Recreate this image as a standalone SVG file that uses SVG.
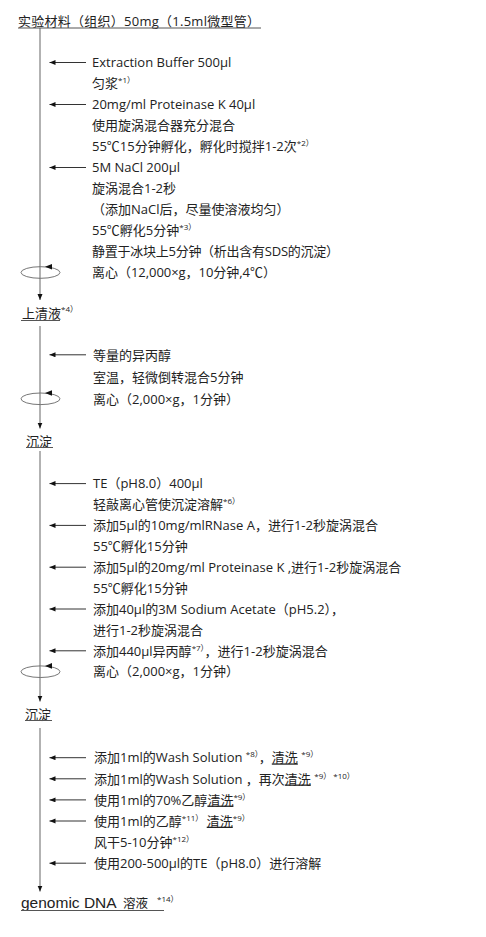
<svg xmlns="http://www.w3.org/2000/svg" width="486" height="937" viewBox="0 0 486 937">
<defs>
<style>
.t{font-family:"Open Sans","Noto Sans CJK SC",sans-serif;font-size:13px;fill:#222}
.sup{font-size:8px}
.u{text-decoration:underline}
.ul{stroke:#555;stroke-width:1}
.v{stroke:#999;stroke-width:1.5;fill:none}
.a{stroke:#333;stroke-width:1;fill:none}
.cf{stroke:#666;stroke-width:0.9;fill:none}
.hd{fill:#111}
</style>
<marker id="ah" markerUnits="userSpaceOnUse" markerWidth="7" markerHeight="6" refX="6" refY="2.5" orient="auto">
<path d="M0,0 L6,2.5 L0,5 z" fill="#111"/>
</marker>
</defs>
<rect width="486" height="937" fill="#fff"/>

<g id="connectors">
<line class="v" x1="40" y1="28" x2="40" y2="300" marker-end="url(#ah)"/>
<line class="v" x1="40" y1="326" x2="40" y2="428.5" marker-end="url(#ah)"/>
<line class="v" x1="40" y1="451" x2="40" y2="701.5" marker-end="url(#ah)"/>
<line class="v" x1="40" y1="728" x2="40" y2="891.5" marker-end="url(#ah)"/>
<line class="a" x1="86" y1="62.5" x2="49.5" y2="62.5" marker-end="url(#ah)"/>
<line class="a" x1="86" y1="104.5" x2="49.5" y2="104.5" marker-end="url(#ah)"/>
<line class="a" x1="86" y1="167.5" x2="49.5" y2="167.5" marker-end="url(#ah)"/>
<line class="a" x1="86" y1="354.8" x2="49.5" y2="354.8" marker-end="url(#ah)"/>
<line class="a" x1="86" y1="483.6" x2="49.5" y2="483.6" marker-end="url(#ah)"/>
<line class="a" x1="86" y1="525.4" x2="49.5" y2="525.4" marker-end="url(#ah)"/>
<line class="a" x1="86" y1="567.2" x2="49.5" y2="567.2" marker-end="url(#ah)"/>
<line class="a" x1="86" y1="609" x2="49.5" y2="609" marker-end="url(#ah)"/>
<line class="a" x1="86" y1="650.8" x2="49.5" y2="650.8" marker-end="url(#ah)"/>
<line class="a" x1="86" y1="757.7" x2="49.5" y2="757.7" marker-end="url(#ah)"/>
<line class="a" x1="86" y1="778.8" x2="49.5" y2="778.8" marker-end="url(#ah)"/>
<line class="a" x1="86" y1="799.9" x2="49.5" y2="799.9" marker-end="url(#ah)"/>
<line class="a" x1="86" y1="821" x2="49.5" y2="821" marker-end="url(#ah)"/>
<line class="a" x1="86" y1="863.2" x2="49.5" y2="863.2" marker-end="url(#ah)"/>
</g>

<g id="centrifuge1">
<ellipse class="cf" cx="40.5" cy="272.5" rx="19.5" ry="5.8"/>
<polygon class="hd" points="45,266.7 52,263.9 52,269.5"/>
</g>
<g id="centrifuge2">
<ellipse class="cf" cx="40.5" cy="398.8" rx="19.5" ry="5.8"/>
<polygon class="hd" points="45,393 52,390.2 52,395.8"/>
</g>
<g id="centrifuge3">
<ellipse class="cf" cx="40.5" cy="671.7" rx="19.5" ry="5.8"/>
<polygon class="hd" points="45,665.9 52,663.1 52,668.7"/>
</g>

<g id="title">
<text class="t" x="18" y="25.5" textLength="242" lengthAdjust="spacing">实验材料（组织）50mg（1.5ml微型管）</text>
<line class="ul" x1="18" y1="28" x2="261" y2="28"/>
</g>

<g id="step1">
<text class="t" x="92" y="67.2">Extraction Buffer 500μl</text>
<text class="t" x="92" y="88.2">匀浆<tspan class="sup" dy="-5">*1）</tspan></text>
<text class="t" x="92" y="109.2">20mg/ml Proteinase K 40μl</text>
<text class="t" x="92" y="130.2">使用旋涡混合器充分混合</text>
<text class="t" x="92" y="151.2">55℃15分钟孵化，孵化时搅拌1-2次<tspan class="sup" dy="-5">*2）</tspan></text>
<text class="t" x="92" y="172.2">5M NaCl 200μl</text>
<text class="t" x="92" y="193.2">旋涡混合1-2秒</text>
<text class="t" x="92" y="214.2">（添加NaCl后，尽量使溶液均匀）</text>
<text class="t" x="92" y="235.2">55℃孵化5分钟<tspan class="sup" dy="-5">*3）</tspan></text>
<text class="t" x="92" y="256.2" textLength="247" lengthAdjust="spacing">静置于冰块上5分钟（析出含有SDS的沉淀）</text>
<text class="t" x="92" y="277.2" textLength="184" lengthAdjust="spacing">离心（12,000×g，10分钟,4℃）</text>
</g>

<g id="supernatant">
<text class="t" x="22" y="318">上清液<tspan class="sup" dy="-6">*4）</tspan></text>
<line class="ul" x1="21" y1="320.5" x2="60" y2="320.5"/>
</g>

<g id="step2">
<text class="t" x="93" y="359.5">等量的异丙醇</text>
<text class="t" x="93" y="381.5">室温，轻微倒转混合5分钟</text>
<text class="t" x="93" y="403.5">离心（2,000×g，1分钟）</text>
</g>

<g id="precipitate1">
<text class="t" x="26" y="445.5">沉淀</text>
<line class="ul" x1="26" y1="447.5" x2="53" y2="447.5"/>
</g>

<g id="step3">
<text class="t" x="93" y="488.3">TE（pH8.0）400μl</text>
<text class="t" x="93" y="509.2">轻敲离心管使沉淀溶解<tspan class="sup" dy="-5">*6）</tspan></text>
<text class="t" x="93" y="530.1">添加5μl的10mg/mlRNase A，进行1-2秒旋涡混合</text>
<text class="t" x="93" y="551">55℃孵化15分钟</text>
<text class="t" x="93" y="571.9">添加5μl的20mg/ml Proteinase K ,进行1-2秒旋涡混合</text>
<text class="t" x="93" y="592.8">55℃孵化15分钟</text>
<text class="t" x="93" y="613.7">添加40μl的3M Sodium Acetate（pH5.2），</text>
<text class="t" x="93" y="634.6">进行1-2秒旋涡混合</text>
<text class="t" x="93" y="655.5">添加440μl异丙醇<tspan class="sup" dy="-5">*7）</tspan><tspan dy="5">，进行1-2秒旋涡混合</tspan></text>
<text class="t" x="93" y="676.4">离心（2,000×g，1分钟）</text>
</g>

<g id="precipitate2">
<text class="t" x="25" y="718.5">沉淀</text>
<line class="ul" x1="25" y1="720.5" x2="52" y2="720.5"/>
</g>

<g id="step4">
<text class="t" x="94" y="762.4">添加1ml的Wash Solution <tspan class="sup" dy="-5">*8）</tspan><tspan dy="5">，</tspan><tspan class="u">清洗</tspan> <tspan class="sup" dy="-5">*9）</tspan></text>
<text class="t" x="94" y="783.5">添加1ml的Wash Solution  ，再次<tspan class="u">清洗</tspan> <tspan class="sup" dy="-5">*9） *10）</tspan></text>
<text class="t" x="94" y="804.6">使用1ml的70%乙醇<tspan class="u">清洗</tspan><tspan class="sup" dy="-5">*9）</tspan></text>
<text class="t" x="94" y="825.7">使用1ml的乙醇<tspan class="sup" dy="-5">*11）</tspan><tspan dy="5"> </tspan><tspan class="u">清洗</tspan><tspan class="sup" dy="-5">*9）</tspan></text>
<text class="t" x="94" y="846.8">风干5-10分钟<tspan class="sup" dy="-5">*12）</tspan></text>
<text class="t" x="94" y="867.9">使用200-500μl的TE（pH8.0）进行溶解</text>
</g>

<g id="result">
<text class="t" x="21" y="907.5"><tspan style="font-family:'Liberation Sans',sans-serif;font-size:15.5px">genomic DNA</tspan><tspan x="123" font-size="12.5">溶液</tspan><tspan class="sup" x="157" dy="-6">*14）</tspan></text>
<line class="ul" x1="21" y1="910.5" x2="164" y2="910.5"/>
</g>
</svg>
